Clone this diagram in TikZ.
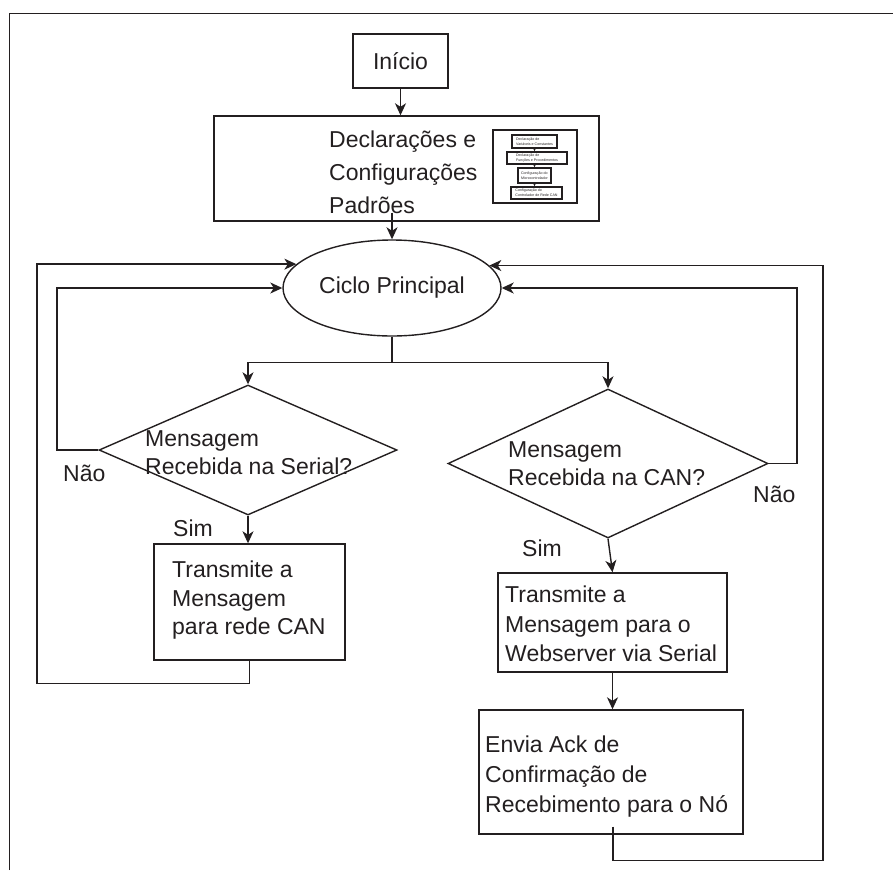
\documentclass[tikz,border=0pt]{standalone}
\usepackage{fontspec}
\setmainfont{Liberation Sans}
\usetikzlibrary{shapes.geometric,arrows.meta,calc}
\definecolor{ink}{RGB}{35,31,32}
\begin{document}
\begin{tikzpicture}[x=1pt,y=-1pt,
  stepbox/.style={draw=ink, line width=1.4pt, rectangle, inner sep=0pt, text=ink,
    font=\fontsize{23}{28}\selectfont},
  decision/.style={draw=ink, line width=1.4pt, diamond, inner sep=0pt},
  loopnode/.style={draw=ink, line width=1.4pt, ellipse, inner sep=0pt, text=ink,
    font=\fontsize{23}{28}\selectfont},
  txt/.style={inner sep=0pt, anchor=north west, align=left, text=ink},
  minibox/.style={draw=ink, line width=1.6pt, rectangle, inner sep=0.6pt, align=left,
    text=ink, font=\fontsize{3.6}{4.6}\selectfont},
  link/.style={draw=ink, line width=1.4pt},
  arr/.style={draw=ink, line width=1.4pt, -{Stealth[length=12pt,width=11pt,inset=3.5pt]}},
  miniarr/.style={draw=ink, line width=0.8pt, -{Stealth[length=2.5pt,width=2.5pt]}}
]
\useasboundingbox (0,0) rectangle (893,870);

% page frame
\draw[ink, line width=1pt] (9,870) -- (9,13) -- (893,13);

% start and setup
\node[stepbox, minimum width=95pt, minimum height=54pt] (start) at (400.5,61) {Início};
\node[stepbox, minimum width=385pt, minimum height=105pt] (decl) at (406.5,168.5) {};
\node[txt, font=\fontsize{23}{33}\selectfont] (decltext) at (329,131)
  {Declarações e\\Configurações\\Padrões};

% small setup sub-flow inside the declarations box
\node[draw=ink, line width=1.2pt, minimum width=84pt, minimum height=73pt, inner sep=0pt]
  (inset) at (535,166.5) {};
\node[minibox, minimum width=45pt, minimum height=13pt] (m1) at (534.5,141.5)
  {Declaração de\\Variáveis e Constantes};
\node[minibox, minimum width=60pt, minimum height=12pt] (m2) at (537,158)
  {Declaração de\\Funções e Procedimentos};
\node[minibox, minimum width=33pt, minimum height=15pt] (m3) at (534.5,175.5)
  {Configuração do\\Microcontrolador};
\node[minibox, minimum width=51pt, minimum height=12pt] (m4) at (536.5,193)
  {Configuração do\\Controlador de Rede CAN};
\draw[miniarr] (m1.south) -- (m1.south |- m2.north);
\draw[miniarr] (m1.south |- m2.south) -- (m1.south |- m3.north);
\draw[miniarr] (m1.south |- m3.south) -- (m1.south |- m4.north);

% main loop
\node[loopnode, minimum width=218pt, minimum height=96pt] (loop) at (392,288) {Ciclo Principal};

% decisions
\node[decision, minimum width=298pt, minimum height=130pt] (dser) at (248,450) {};
\node[txt, font=\fontsize{23}{28}\selectfont] (dsertext) at (145,430)
  {Mensagem\\Recebida na Serial?};
\node[decision, minimum width=320pt, minimum height=149pt] (dcan) at (608,463.5) {};
\node[txt, font=\fontsize{23}{28}\selectfont] (dcantext) at (508,441)
  {Mensagem\\Recebida na CAN?};

% actions
\node[stepbox, minimum width=191pt, minimum height=116pt] (pser) at (249.5,602) {};
\node[txt, font=\fontsize{23}{28.5}\selectfont] (psertext) at (172,561)
  {Transmite a\\Mensagem\\para rede CAN};
\node[stepbox, minimum width=229pt, minimum height=99pt] (pweb) at (612.5,622.5) {};
\node[txt, font=\fontsize{23}{29.5}\selectfont] (pwebtext) at (505,586)
  {Transmite a\\Mensagem para o\\Webserver via Serial};
\node[stepbox, minimum width=264pt, minimum height=124pt] (ack) at (611,772) {};
\node[txt, font=\fontsize{23}{30}\selectfont] (acktext) at (485,736)
  {Envia Ack de\\Confirmação de\\Recebimento para o Nó};

% branch labels
\node[txt, font=\fontsize{23}{28}\selectfont] (noL) at (63,465) {Não};
\node[txt, font=\fontsize{23}{28}\selectfont] (yesL) at (173,520) {Sim};
\node[txt, font=\fontsize{23}{28}\selectfont] (noR) at (753,486) {Não};
\node[txt, font=\fontsize{23}{28}\selectfont] (yesR) at (522,540) {Sim};

% connectors
\draw[arr] (start.south) -- (start.south |- decl.north);
\draw[arr] ($(decl.south -| loop.north)+(0,-9)$) -- (loop.north);

\coordinate (fork) at ($(loop.south)+(0,26)$);
\draw[link] (loop.south) -- (fork);
\draw[arr] (fork) -| (dser.north);
\draw[arr] (fork) -| (dcan.north);

\draw[arr] (dser.south) -- (dser.south |- pser.north);
\draw[arr] (dcan.south) -- (pweb.north);
\draw[arr] (pweb.south) -- (pweb.south |- ack.north);

% return paths to the main loop
\coordinate (innerL) at (57,0);
\coordinate (outerL) at (37,0);
\coordinate (innerR) at (797,0);
\coordinate (outerR) at (823,0);
\draw[arr] (dser.west) -| (innerL |- loop.west) -- (loop.west);
\draw[arr] (dcan.east) -| (innerR |- loop.east) -- (loop.east);
\draw[arr] (pser.south) -- ++(0,23) -| (outerL |- loop.166.5) -- (loop.166.5);
\draw[arr] ($(ack.south)+(2,-8)$) -- ++(0,34) -| (outerR |- loop.13.5) -- (loop.13.5);
\end{tikzpicture}
\end{document}
